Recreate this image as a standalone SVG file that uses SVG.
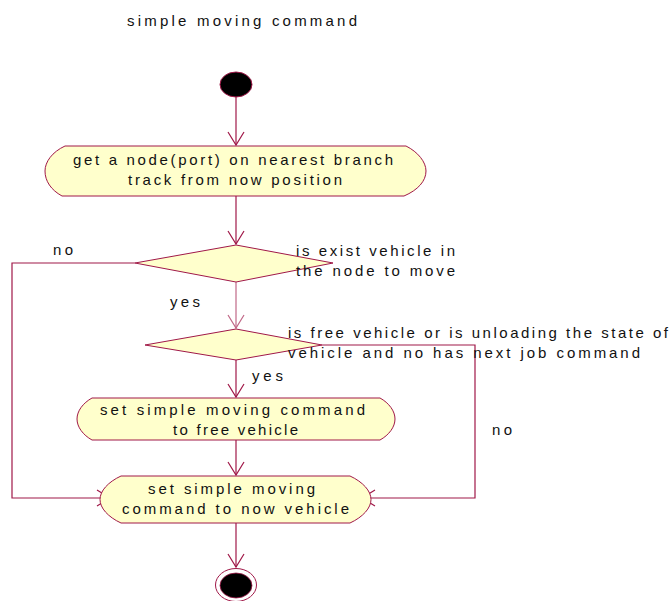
<svg xmlns="http://www.w3.org/2000/svg" width="672" height="601" viewBox="0 0 672 601">
<style>
text{font-family:"Liberation Sans",Arial,sans-serif;font-size:15px;fill:#111}
.act{fill:#ffffcc;stroke:#a01848;stroke-width:1}
.dec{fill:#ffffcc;stroke:#a01848;stroke-width:1}
.c{fill:none;stroke:#a01848;stroke-width:1.2}
</style>
<defs>
<marker id="ah" markerUnits="userSpaceOnUse" markerWidth="30" markerHeight="30" viewBox="-15 -15 30 30" refX="0" refY="0" orient="auto">
<path d="M-13,-8 L0,0 L-13,8" fill="none" stroke="#a01848" stroke-width="1.2"/>
</marker>
</defs>
<rect width="672" height="601" fill="#ffffff"/>
<text x="127" y="26" textLength="230" lengthAdjust="spacing">simple moving command</text>

<g id="connectors">
<path class="c" d="M236,97 L236,145" marker-end="url(#ah)"/>
<path class="c" d="M236,196 L236,244" marker-end="url(#ah)"/>
<path class="c" d="M236,282 L236,328" marker-end="url(#ah)" opacity="0.65"/>
<path class="c" d="M236,360 L236,397" marker-end="url(#ah)"/>
<path class="c" d="M236,440 L236,475" marker-end="url(#ah)"/>
<path class="c" d="M236,523 L236,567" marker-end="url(#ah)"/>
<path class="c" d="M135,263 L12,263 L12,498 L110,498" marker-end="url(#ah)"/>
<path class="c" d="M322,345 L475,345 L475,498 L362,498" marker-end="url(#ah)"/>
<text x="53" y="255" textLength="20" lengthAdjust="spacing">no</text>
<text x="170" y="307" textLength="30" lengthAdjust="spacing">yes</text>
<text x="252" y="381" textLength="31" lengthAdjust="spacing">yes</text>
<text x="492" y="435" textLength="20" lengthAdjust="spacing">no</text>
</g>

<g id="start">
<ellipse cx="236" cy="84.5" rx="16" ry="12.5" fill="#000" stroke="#a01848" stroke-width="1"/>
</g>

<g id="act1">
<path class="act" d="M65,146 L406,146 C418,152 426,162 426,171 C426,181 418,190 404,196 L62,196 C51,190 45,181 45,171 C45,162 52,152 65,146 Z"/>
<text x="73" y="165" textLength="320" lengthAdjust="spacing">get a node(port) on nearest branch</text>
<text x="128" y="185" textLength="214" lengthAdjust="spacing">track from now position</text>
</g>

<g id="dec1">
<polygon class="dec" points="135,263 236,245 333,263 236,282"/>
<text x="296" y="256" textLength="159" lengthAdjust="spacing">is exist vehicle in</text>
<text x="296" y="276" textLength="159" lengthAdjust="spacing">the node to move</text>
</g>

<g id="dec2">
<polygon class="dec" points="145,345 236,329 322,345 236,360"/>
<text x="288" y="338" textLength="380" lengthAdjust="spacing">is free vehicle or is unloading the state of</text>
<text x="288" y="358" textLength="352" lengthAdjust="spacing">vehicle and no has next job command</text>
</g>

<g id="act2">
<path class="act" d="M92,398 L380,398 C389,403 395,411 395,419 C395,427 389,435 380,440 L92,440 C83,435 77,427 77,419 C77,411 83,403 92,398 Z"/>
<text x="100" y="415" textLength="265" lengthAdjust="spacing">set simple moving command</text>
<text x="173" y="435" textLength="125" lengthAdjust="spacing">to free vehicle</text>
</g>

<g id="act3">
<path class="act" d="M121,476 L350,476 C363,482 371,491 371,499.5 C371,508 363,517 350,523 L121,523 C108,517 100,508 100,499.5 C100,491 108,482 121,476 Z"/>
<text x="148" y="494" textLength="167" lengthAdjust="spacing">set simple moving</text>
<text x="122" y="514" textLength="227" lengthAdjust="spacing">command to now vehicle</text>
</g>

<g id="end">
<ellipse cx="236" cy="585" rx="20.5" ry="16.5" fill="#fff" stroke="#a01848" stroke-width="1"/>
<ellipse cx="236" cy="585.5" rx="16" ry="12.5" fill="#000" stroke="#a01848" stroke-width="0.8"/>
</g>
</svg>
